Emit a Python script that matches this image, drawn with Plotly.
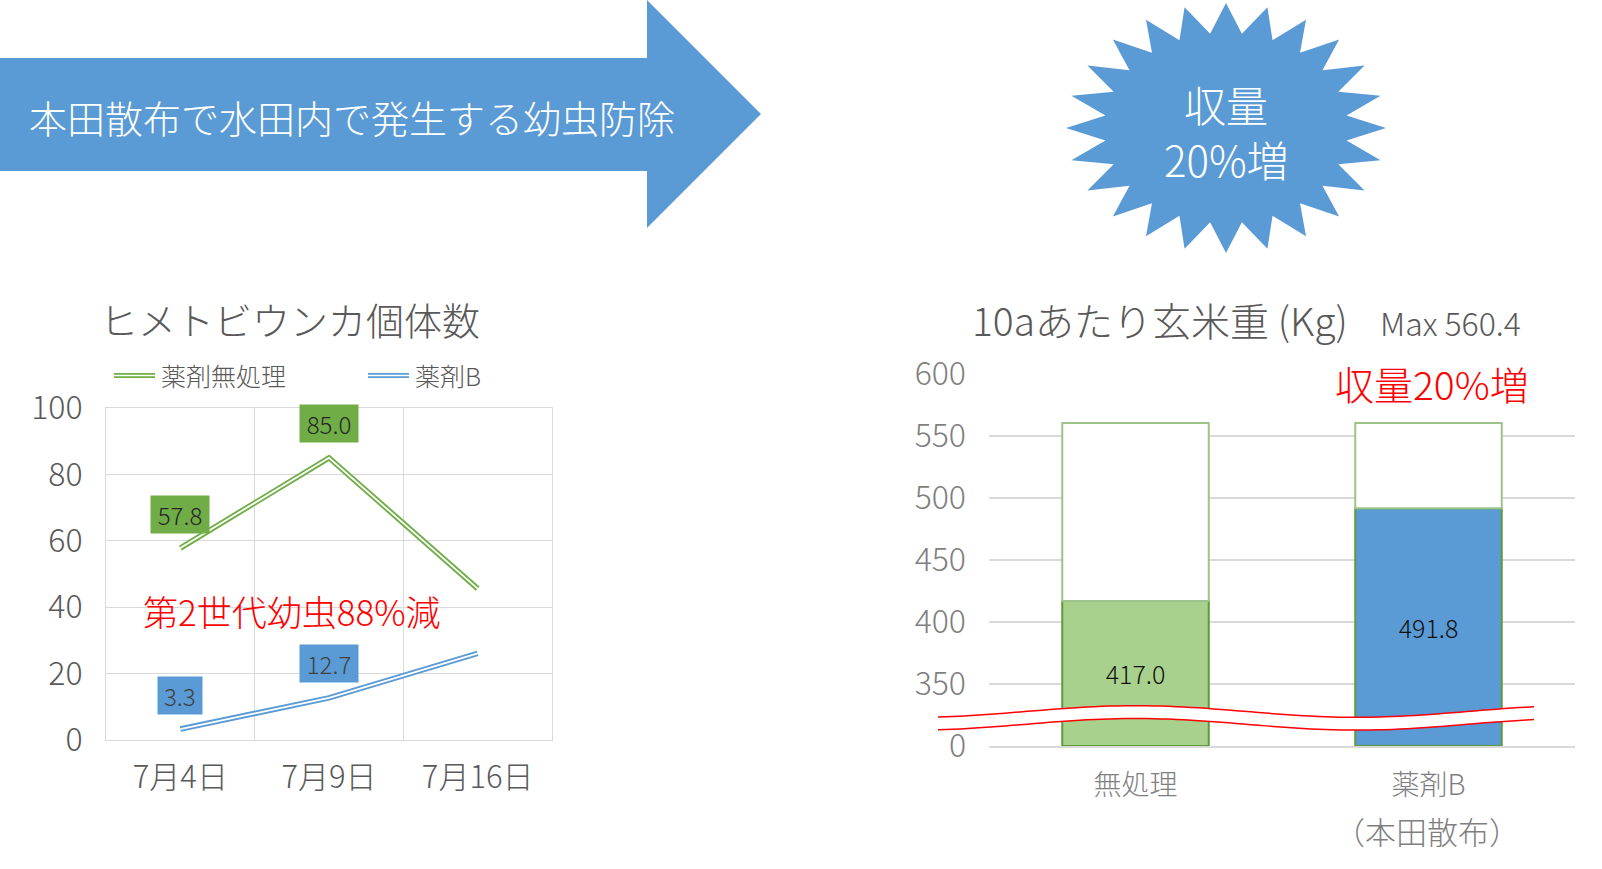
import math
import plotly.graph_objects as go

# ---------------- data ----------------
dates = ["7月4日", "7月9日", "7月16日"]
untreated_counts = [57.8, 85.0, 45.6]
drugB_counts = [3.3, 12.7, 26.1]
labelled_dates = ["7月4日", "7月9日"]

treatments = ["無処理", "薬剤B"]
yield_values = [417.0, 491.8]
yield_max = 560.4
axis_break = 300
yield_ticks = [300, 350, 400, 450, 500, 550, 600]
yield_ticktext = ["0", "350", "400", "450", "500", "550", "600"]

# ---------------- style ----------------
W, H = 1602, 869
FONT = "Noto Sans CJK JP Light, Noto Sans CJK JP, sans-serif"
BLUE = "#5B9BD5"
GREEN = "#70AD47"
LGREEN = "#A9D18E"
GRID = "#D9D9D9"
TXT = "#595959"


def px(x):
    return x / W


def py(y):
    return 1 - y / H


def F(size, color):
    return dict(family=FONT, size=size, color=color, weight=300)


fig = go.Figure()

# ---------------- line chart ----------------
for vals, col in [(untreated_counts, GREEN), (drugB_counts, BLUE)]:
    fig.add_trace(go.Scatter(x=dates, y=vals, mode="lines", line=dict(color=col, width=5.5),
                             xaxis="x", yaxis="y", showlegend=False, hoverinfo="skip"))
    fig.add_trace(go.Scatter(x=dates, y=vals, mode="lines", line=dict(color="white", width=1.8),
                             xaxis="x", yaxis="y", showlegend=False, hoverinfo="skip"))

annotations = []
for vals, col, tcol in [(untreated_counts, GREEN, "#262626"), (drugB_counts, BLUE, "#404040")]:
    for d, v in zip(dates, vals):
        if d in labelled_dates:
            label = f"{v:.1f}"
            annotations.append(dict(x=d, y=v, xref="x", yref="y", text=label,
                                    showarrow=True, arrowcolor="rgba(0,0,0,0)", ax=0, ay=-34,
                                    bgcolor=col, borderpad=0, width=14.5 * len(label), height=37,
                                    font=F(24, tcol)))

# ---------------- bar chart ----------------
fig.add_trace(go.Bar(x=treatments, y=[v - axis_break for v in yield_values], base=axis_break,
                     marker=dict(color=[LGREEN, BLUE], line=dict(color="#5E9A38", width=2)),
                     width=0.5, text=[f"{v:.1f}" for v in yield_values], textposition="inside",
                     insidetextanchor="middle", textfont=F(25, "#111111"),
                     xaxis="x2", yaxis="y2", showlegend=False, hoverinfo="skip"))
fig.add_trace(go.Bar(x=treatments, y=[yield_max - v for v in yield_values], base=yield_values,
                     marker=dict(color="white", line=dict(color="#9DC38A", width=2)),
                     width=0.5, xaxis="x2", yaxis="y2", showlegend=False, hoverinfo="skip"))

# ---------------- shapes ----------------
shapes = []
# big arrow
arrow_pts = [(0, 58), (647, 58), (647, 0), (761, 114), (647, 228), (647, 171), (0, 171)]
path = "M " + " L ".join(f"{px(x):.5f},{py(y):.5f}" for x, y in arrow_pts) + " Z"
shapes.append(dict(type="path", path=path, xref="paper", yref="paper",
                   fillcolor=BLUE, line=dict(width=0), layer="below"))

# starburst
cx, cy, rx, ry, n = 1226, 128, 160, 125, 24
pts = []
for i in range(2 * n):
    a = math.pi * i / n
    r = 1.0 if i % 2 == 0 else 0.76
    pts.append((cx + rx * r * math.sin(a), cy - ry * r * math.cos(a)))
path = "M " + " L ".join(f"{px(x):.5f},{py(y):.5f}" for x, y in pts) + " Z"
shapes.append(dict(type="path", path=path, xref="paper", yref="paper",
                   fillcolor=BLUE, line=dict(width=0), layer="below"))

# legend samples (double lines)
for x0, x1, col in [(114, 155, GREEN), (368, 409, BLUE)]:
    shapes.append(dict(type="line", xref="paper", yref="paper", x0=px(x0), x1=px(x1),
                       y0=py(375.5), y1=py(375.5), line=dict(color=col, width=5)))
    shapes.append(dict(type="line", xref="paper", yref="paper", x0=px(x0), x1=px(x1),
                       y0=py(375.5), y1=py(375.5), line=dict(color="white", width=1.6)))


# axis break wave
def wave(x, off):
    return 711.5 + off - 5.8 * math.cos(2 * math.pi * (x - 1136) / 442)


xs = [938 + (1534 - 938) * k / 80 for k in range(81)]
top = [(x, wave(x, 0)) for x in xs]
bot = [(x, wave(x, 12.8)) for x in xs]
band = top + bot[::-1]
path = "M " + " L ".join(f"{px(x):.5f},{py(y):.5f}" for x, y in band) + " Z"
shapes.append(dict(type="path", path=path, xref="paper", yref="paper",
                   fillcolor="white", line=dict(width=0), layer="above"))
for curve in (top, bot):
    path = "M " + " L ".join(f"{px(x):.5f},{py(y):.5f}" for x, y in curve)
    shapes.append(dict(type="path", path=path, xref="paper", yref="paper",
                       line=dict(color="#FF0000", width=1.5), layer="above"))


# ---------------- texts ----------------
def txt(x, y, s, size, color, xanchor="center", yanchor="middle"):
    return dict(x=px(x), y=py(y), xref="paper", yref="paper", text=s, showarrow=False,
                xanchor=xanchor, yanchor=yanchor, font=F(size, color))


annotations += [
    txt(352, 117, "本田散布で水田内で発生する幼虫防除", 38, "white"),
    txt(1226, 136, "収量", 42, "white", yanchor="bottom"),
    txt(1226, 126, "20%増", 42, "white", yanchor="top"),
    txt(98, 318, "ヒメトビウンカ個体数", 38, TXT, "left"),
    txt(159, 375, "薬剤無処理", 25, TXT, "left"),
    txt(413, 375, "薬剤B", 25, TXT, "left"),
    txt(141, 610, "第2世代幼虫88%減", 35, "#FF0000", "left"),
    txt(970, 319, "10aあたり玄米重 (Kg)", 39, TXT, "left"),
    txt(1378, 322, f"Max {yield_max}", 32, TXT, "left"),
    txt(1531, 383, "収量20%増", 39, "#FF0000", "right"),
    txt(1427, 830, "（本田散布）", 31, "#7F7F7F"),
]

fig.update_layout(
    width=W, height=H, margin=dict(l=0, r=0, t=0, b=0, pad=0, autoexpand=False),
    paper_bgcolor="white", plot_bgcolor="white",
    barmode="overlay",
    xaxis=dict(domain=[px(106), px(552)], type="category", tickson="boundaries",
               range=[-0.5, len(dates) - 0.5],
               showgrid=True, gridcolor=GRID, gridwidth=1, showline=True, mirror=True,
               linecolor=GRID, linewidth=1, ticks="", ticklabelstandoff=10, automargin=False,
               tickfont=F(31, TXT), anchor="y"),
    yaxis=dict(domain=[py(740), py(408)], range=[0, 100], dtick=20, showgrid=True,
               gridcolor=GRID, gridwidth=1, showline=True, mirror=True, linecolor=GRID,
               linewidth=1, zeroline=False, ticks="", ticklabelstandoff=16, automargin=False,
               tickfont=F(32, TXT), anchor="x"),
    xaxis2=dict(domain=[px(989), px(1575)], type="category", showgrid=False,
                range=[-0.5, len(treatments) - 0.5],
                showline=True, linecolor=GRID, linewidth=2, ticks="", ticklabelstandoff=13,
                automargin=False, tickfont=F(28, "#7F7F7F"), anchor="y2"),
    yaxis2=dict(domain=[py(746), py(374)], range=[axis_break, 600], tickvals=yield_ticks,
                ticktext=yield_ticktext, showgrid=True, gridcolor=GRID, gridwidth=2,
                zeroline=False, showline=False, ticks="", ticklabelstandoff=22,
                automargin=False, tickfont=F(32, "#7F7F7F"), anchor="x2"),
    shapes=shapes, annotations=annotations,
    font=dict(family=FONT),
)

fig.write_html("out.html", config={"displayModeBar": False},
               post_script="document.body.style.margin='0';")
